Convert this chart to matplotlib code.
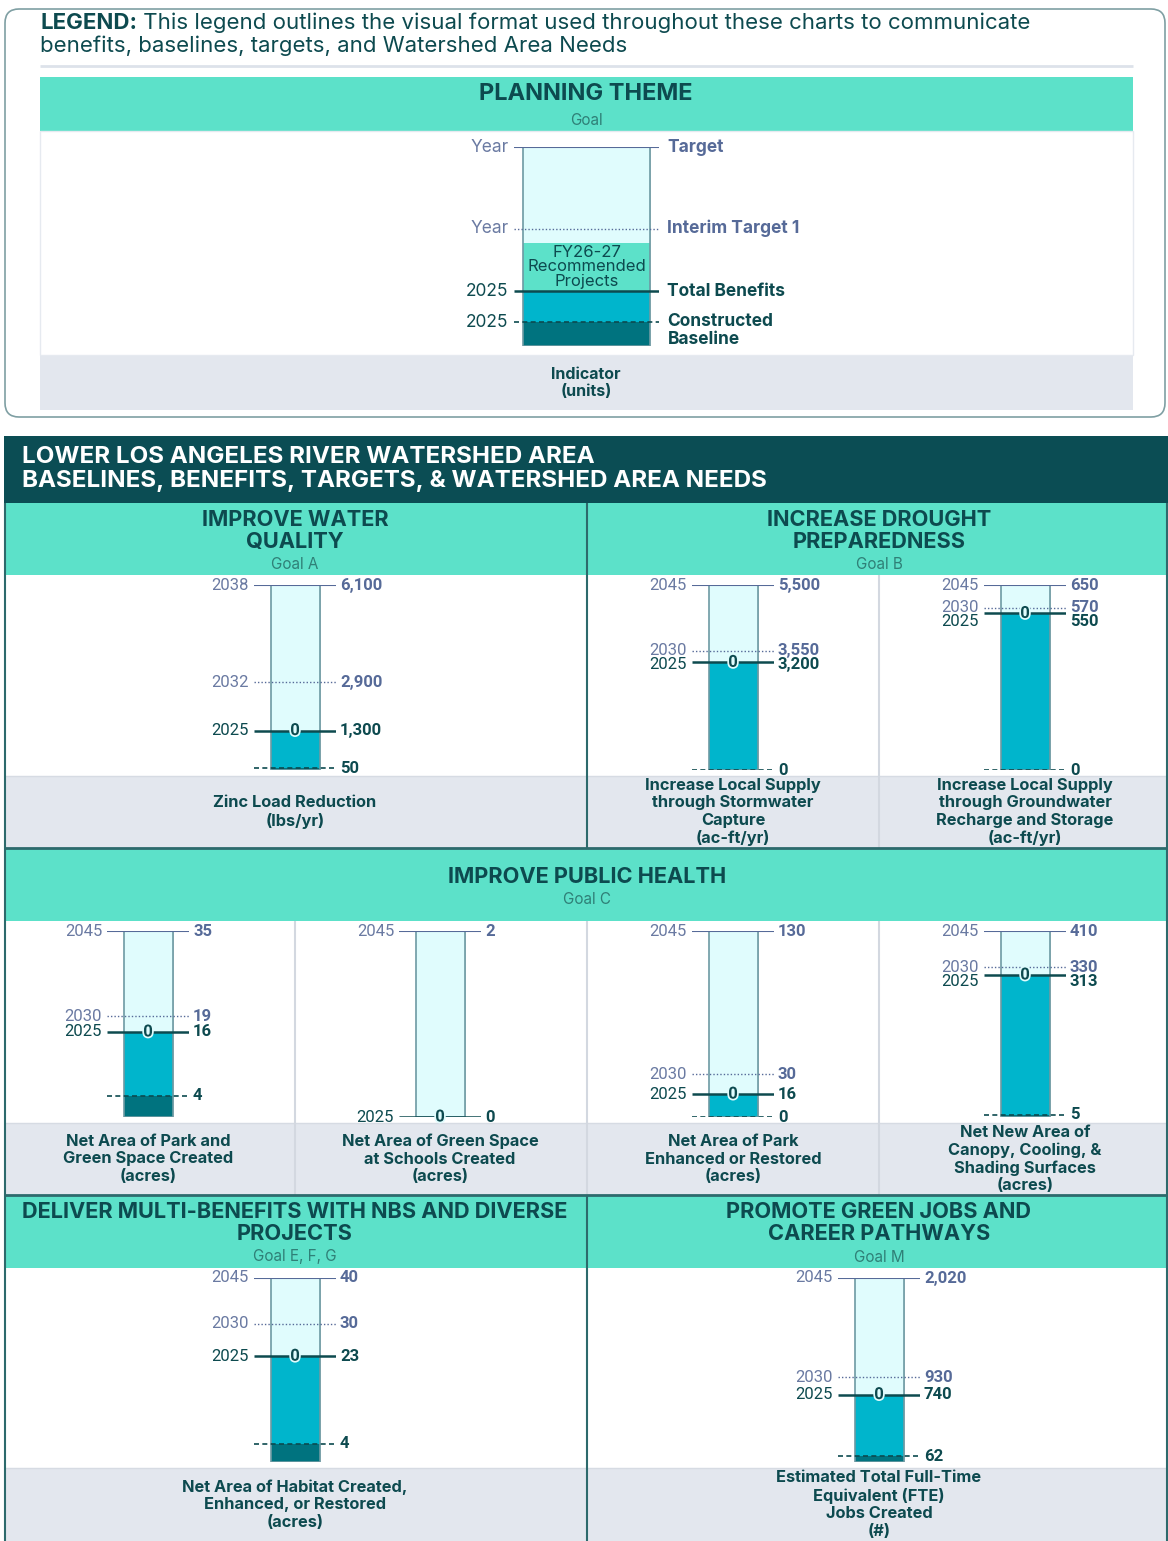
import matplotlib
matplotlib.use("Agg")
import matplotlib.pyplot as plt
import matplotlib.patheffects as pe
from matplotlib.patches import Rectangle, FancyBboxPatch

plt.rcParams['font.family'] = ['Inter', 'DejaVu Sans']
NUM_FONT = ['Roboto', 'DejaVu Sans']

W, H = 1168, 1541

# ---------------- data ----------------
indicators = [
    "Zinc Load Reduction\n(lbs/yr)",
    "Increase Local Supply\nthrough Stormwater\nCapture\n(ac-ft/yr)",
    "Increase Local Supply\nthrough Groundwater\nRecharge and Storage\n(ac-ft/yr)",
    "Net Area of Park and\nGreen Space Created\n(acres)",
    "Net Area of Green Space\nat Schools Created\n(acres)",
    "Net Area of Park\nEnhanced or Restored\n(acres)",
    "Net New Area of\nCanopy, Cooling, &\nShading Surfaces\n(acres)",
    "Net Area of Habitat Created,\nEnhanced, or Restored\n(acres)",
    "Estimated Total Full-Time\nEquivalent (FTE)\nJobs Created\n(#)",
]
target_years = [2038, 2045, 2045, 2045, 2045, 2045, 2045, 2045, 2045]
targets = [6100, 5500, 650, 35, 2, 130, 410, 40, 2020]
interim_years = [2032, 2030, 2030, 2030, None, 2030, 2030, 2030, 2030]
interim_targets = [2900, 3550, 570, 19, None, 30, 330, 30, 930]
benefit_year = 2025
total_benefits = [1300, 3200, 550, 16, 0, 16, 313, 23, 740]
baselines = [50, 0, 0, 4, None, 0, 5, 4, 62]
recommended = [0, 0, 0, 0, 0, 0, 0, 0, 0]

themes = [
    ("IMPROVE WATER\nQUALITY", "Goal A"),
    ("INCREASE DROUGHT\nPREPAREDNESS", "Goal B"),
    ("IMPROVE PUBLIC HEALTH", "Goal C"),
    ("DELIVER MULTI-BENEFITS WITH NBS AND DIVERSE\nPROJECTS", "Goal E, F, G"),
    ("PROMOTE GREEN JOBS AND\nCAREER PATHWAYS", "Goal M"),
]

# legend (illustrative values of the sample bar)
legend_values = {"target": 10.0, "interim": 5.9, "recommended": 5.2, "total": 2.75, "baseline": 1.2}
legend_left = {"target": "Year", "interim": "Year", "total": "2025", "baseline": "2025"}
legend_right = {"target": "Target", "interim": "Interim Target 1",
                "total": "Total Benefits", "baseline": "Constructed\nBaseline"}

# ---------------- colours ----------------
TEAL_BAND = '#5ce1c9'
DARK_BAND = '#0b4d54'
TXT_DARK = '#0d4a4f'
GOAL_TXT = '#2f8077'
FOOTER = '#e3e7ee'
LIGHT = '#e0fcfd'
EDGE = '#6d9aa3'
CYAN = '#00b5cc'
DARKFILL = '#00737f'
SLATE = '#566a98'
YEAR_SLATE = '#6a7aa2'
DIV_DARK = '#2d6a6c'
DIV_LIGHT = '#d3d8e0'

fig = plt.figure(figsize=(W / 100, H / 100), dpi=100)
bg = fig.add_axes([0, 0, 1, 1])
bg.set_xlim(0, W)
bg.set_ylim(H, 0)
bg.axis('off')


def rect(x0, y0, x1, y1, color, z=0, **kw):
    bg.add_patch(Rectangle((x0, y0), x1 - x0, y1 - y0, facecolor=color, edgecolor='none', zorder=z, **kw))


def vline(x, y0, y1, color, lw=1.5, z=3):
    bg.plot([x, x], [y0, y1], color=color, lw=lw, zorder=z, solid_capstyle='butt')


def hline(y, x0, x1, color, lw=1.5, z=3):
    bg.plot([x0, x1], [y, y], color=color, lw=lw, zorder=z, solid_capstyle='butt')


# ---------------- legend box ----------------
bg.add_patch(FancyBboxPatch((5, 9), 1160, 408, boxstyle="round,pad=0,rounding_size=14",
                            facecolor='white', edgecolor='#7f9fa3', lw=1.2, zorder=1))
t1 = bg.text(40, 23, "LEGEND:", fontsize=16, fontweight='bold', color=TXT_DARK, va='center', ha='left', zorder=5)
bg.annotate(" This legend outlines the visual format used throughout these charts to communicate",
            xy=(1, 0), xycoords=t1, va='bottom', ha='left', fontsize=16, color=TXT_DARK, zorder=5)
bg.text(40, 46, "benefits, baselines, targets, and Watershed Area Needs", fontsize=16, color=TXT_DARK,
        va='center', ha='left', zorder=5)
hline(66, 40, 1133, '#dde2ea', lw=2)
rect(40, 77, 1133, 131, TEAL_BAND, z=2)
rect(40, 355, 1133, 410, FOOTER, z=2)
bg.add_patch(Rectangle((40, 131), 1093, 224, facecolor='none', edgecolor='#e6eaf0', lw=1, zorder=2))
bg.text(586, 94, "PLANNING THEME", fontsize=17, fontweight='bold', color=TXT_DARK, ha='center', va='center', zorder=5)
bg.text(586, 120, "Goal", fontsize=11, color=GOAL_TXT, ha='center', va='center', zorder=5)
bg.text(586, 383, "Indicator\n(units)", fontsize=11.5, fontweight='bold', color=TXT_DARK, ha='center',
        va='center', linespacing=1.2, zorder=5)

# ---------------- main frame ----------------
rect(4, 436, W, 503, DARK_BAND, z=2)
bg.text(22, 469, "LOWER LOS ANGELES RIVER WATERSHED AREA\nBASELINES, BENEFITS, TARGETS, & WATERSHED AREA NEEDS",
        fontsize=17.4, fontweight='bold', color='white', ha='left', va='center', linespacing=1.12, zorder=5)

rows = [(503, 575, 776, 848), (848, 921, 1123, 1195), (1195, 1268, 1468, 1541)]
for (h0, c0, f0, f1) in rows:
    rect(4, h0, W, c0, TEAL_BAND, z=1)
    rect(4, f0, W, f1, FOOTER, z=1)
    hline(f0, 4, W, '#d6dbe3', lw=1)

# dividers
vline(587, 503, 848, DIV_DARK)
vline(587, 1195, 1541, DIV_DARK)
vline(879, 575, 848, DIV_LIGHT)
for x in (295, 587, 879):
    vline(x, 921, 1195, DIV_LIGHT)
hline(848, 4, W, DIV_DARK, lw=2)
hline(1195, 4, W, DIV_DARK, lw=2)
vline(4.5, 503, 1541, DIV_DARK, lw=1.5)
vline(1167, 503, 1541, DIV_DARK, lw=1.5)

# theme headers
theme_pos = [(295, 503, 575), (879, 503, 575), (587, 848, 921), (295, 1195, 1268), (879, 1195, 1268)]
for (title, goal), (cx, h0, h1) in zip(themes, theme_pos):
    nl = title.count("\n") + 1
    ty = h0 + 28 if nl == 2 else h0 + 29
    gy = h1 - 11 if nl == 2 else h1 - 22
    bg.text(cx, ty, title, fontsize=15.7, fontweight='bold', color=TXT_DARK, ha='center', va='center',
            linespacing=1.12, zorder=5)
    bg.text(cx, gy, goal, fontsize=11, color=GOAL_TXT, ha='center', va='center', zorder=5)

# chart cells: (center x, row index)
cells = [(295, 0), (733, 0), (1025, 0), (148, 1), (440, 1), (733, 1), (1025, 1), (295, 2), (879, 2)]


def fmt(v):
    return f"{v:,.0f}"


def spread(py, gap=14):
    out = list(py)
    for i in range(1, len(out)):
        if out[i] - out[i - 1] < gap:
            out[i] = out[i - 1] + gap
    return out


def draw_bar(cx, top, bot, vals, left, right, half=41, bar_w=49, legend=False):
    target = vals["target"]
    ax = fig.add_axes([(cx - half) / W, 1 - bot / H, 2 * half / W, (bot - top) / H])
    ax.set_xlim(-half, half)
    ax.set_ylim(0, target)
    ax.axis('off')
    ppu = (bot - top) / target
    base = vals.get("baseline")
    b = base if base is not None else 0
    total = vals["total"]
    # soft shadow on right edge
    ax.bar(1.5, target, width=bar_w, color='#c9d2d6', edgecolor='none', zorder=0.5)
    ax.bar(0, target, width=bar_w, color=LIGHT, edgecolor='none', zorder=1)
    rec = vals.get("recommended")
    lab_font = ['Inter', 'DejaVu Sans'] if legend else NUM_FONT
    if legend and rec:
        ax.bar(0, rec - total, bottom=total, width=bar_w, color=TEAL_BAND, zorder=2)
        ax.text(0, (rec + total) / 2, "FY26-27\nRecommended\nProjects", ha='center', va='center',
                fontsize=12, color=TXT_DARK, linespacing=0.95, zorder=6)
    ax.bar(0, total - b, bottom=b, width=bar_w, color=CYAN, zorder=2)
    if b > 0:
        ax.bar(0, b, width=bar_w, color=DARKFILL, zorder=2)
    ax.bar(0, target, width=bar_w, color='none', edgecolor=EDGE, lw=1.2, zorder=3)

    ax.hlines(target, -half, half, color=SLATE, lw=1.5, zorder=4)
    if vals.get("interim") is not None:
        ax.hlines(vals["interim"], -half, half, color=SLATE, lw=1.0, linestyles=(0, (1, 1.5)), zorder=4)
    ax.hlines(total, -half, half, color=TXT_DARK, lw=1.8, zorder=4)
    if base is not None:
        ax.hlines(base, -half, half, color=TXT_DARK, lw=1.2, linestyles=(0, (3, 2)), zorder=4)

    kinds = [k for k in ("target", "interim", "total", "baseline") if vals.get(k) is not None]
    py = spread([bot - vals[k] * ppu for k in kinds])
    fs = 12.5 if legend else 12
    for k, p in zip(kinds, py):
        y = (bot - p) / ppu
        col = SLATE if k in ("target", "interim") else TXT_DARK
        ycol = YEAR_SLATE if k in ("target", "interim") else TXT_DARK
        if left.get(k):
            ax.text(-half - 5, y, left[k], ha='right', va='center', fontsize=fs, color=ycol,
                    family=lab_font, clip_on=False, zorder=6)
        if right.get(k):
            lab = right[k]
            if "\n" in lab:
                ax.text(half + 8, y + 9 / ppu, lab, ha='left', va='top', fontsize=fs, fontweight='bold',
                        color=col, family=lab_font, linespacing=1.05, clip_on=False, zorder=6)
            else:
                ax.text(half + (8 if legend else 4), y, lab, ha='left', va='center', fontsize=fs,
                        fontweight='bold', color=col, family=lab_font, clip_on=False, zorder=6)
    if not legend:
        ax.text(0, total, fmt(vals["recommended"]), ha='center', va='center', fontsize=12, fontweight='bold',
                color=TXT_DARK, family=NUM_FONT, zorder=7,
                path_effects=[pe.withStroke(linewidth=2.5, foreground=LIGHT)])
    return ax


# legend sample bar
draw_bar(586.5, 147, 346, legend_values, legend_left, legend_right, half=73, bar_w=127, legend=True)

# charts
for i, (cx, r) in enumerate(cells):
    h0, c0, f0, f1 = rows[r]
    vals = {"target": targets[i], "interim": interim_targets[i], "total": total_benefits[i],
            "baseline": baselines[i], "recommended": recommended[i]}
    left = {"target": str(target_years[i]),
            "interim": str(interim_years[i]) if interim_years[i] else None,
            "total": str(benefit_year)}
    right = {"target": fmt(targets[i]),
             "interim": fmt(interim_targets[i]) if interim_targets[i] is not None else None,
             "total": fmt(total_benefits[i]),
             "baseline": fmt(baselines[i]) if baselines[i] is not None else None}
    draw_bar(cx, c0 + 10, f0 - 6, vals, left, right)
    bg.text(cx, (f0 + f1) / 2, indicators[i], ha='center', va='center', fontsize=11.8, fontweight='bold',
            color=TXT_DARK, linespacing=1.2, zorder=5)

fig.savefig("out.png", dpi=100)
